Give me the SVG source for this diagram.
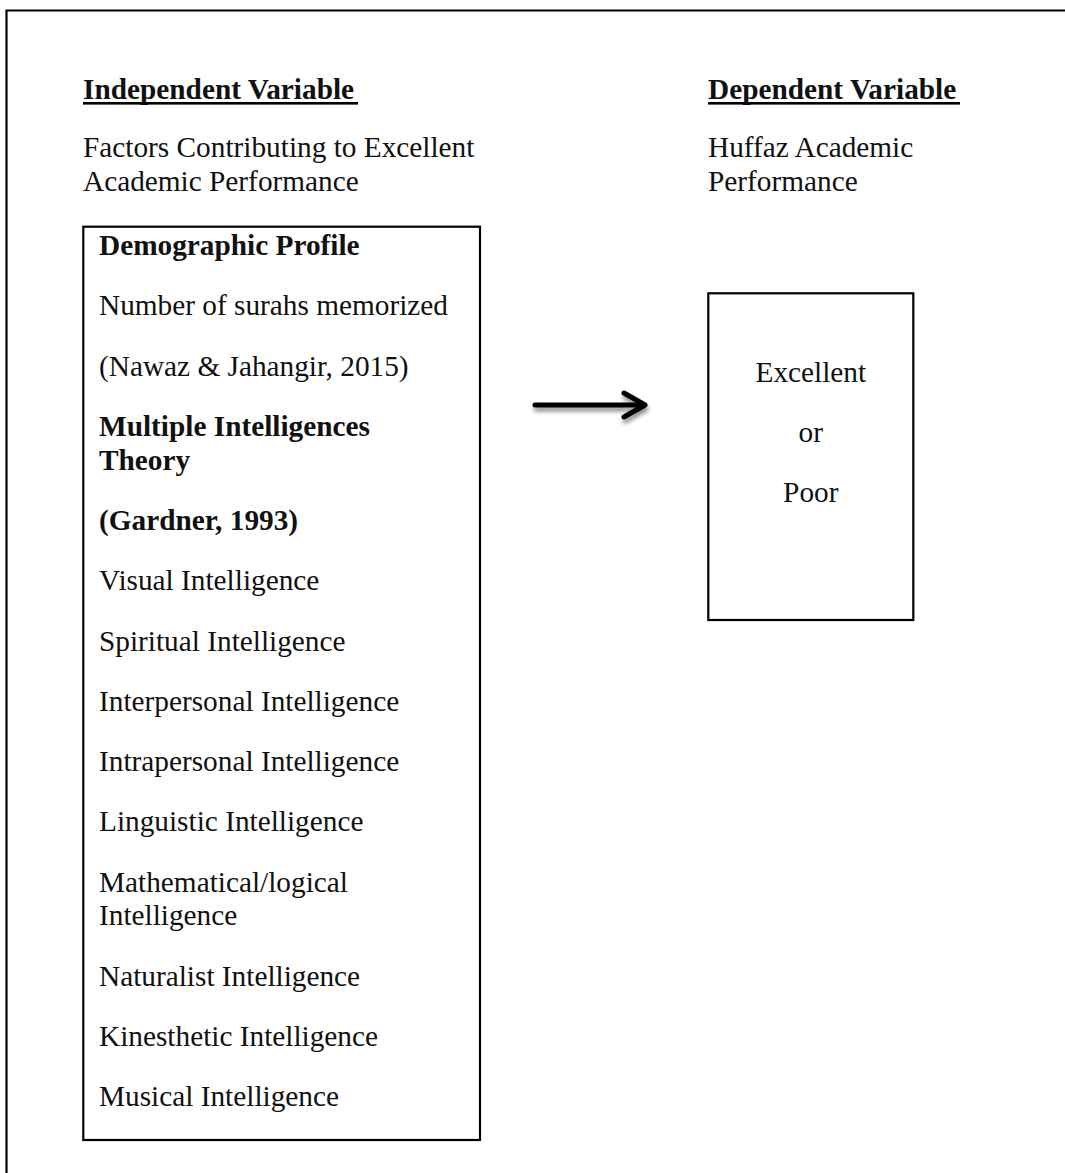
<svg xmlns="http://www.w3.org/2000/svg" width="1065" height="1173" viewBox="0 0 1065 1173">
<defs>
<style>
.t{font-family:"Liberation Serif","Times New Roman",serif;font-size:29.3px;fill:#111}
.b{font-weight:bold}
.box{fill:#fff;stroke:#000;stroke-width:2.2}
.ul{fill:#000}
</style>
<filter id="sh" x="-20%" y="-50%" width="140%" height="250%">
<feGaussianBlur in="SourceAlpha" stdDeviation="2"/>
<feOffset dx="1" dy="4" result="o"/>
<feComponentTransfer><feFuncA type="linear" slope="0.45"/></feComponentTransfer>
<feMerge><feMergeNode/><feMergeNode in="SourceGraphic"/></feMerge>
</filter>
</defs>
<rect width="1065" height="1173" fill="#fff"/>
<path d="M6.5,1173 V10.5 H1065" fill="none" stroke="#000" stroke-width="2.2"/>

<g id="independent-header">
<text class="t b" x="83" y="99">Independent Variable</text>
<rect class="ul" x="83" y="102" width="275" height="2.6"/>
<text class="t" x="83" y="157">Factors Contributing to Excellent</text>
<text class="t" x="83" y="191">Academic Performance</text>
</g>

<g id="dependent-header">
<text class="t b" x="708" y="99">Dependent Variable</text>
<rect class="ul" x="708" y="102" width="252" height="2.6"/>
<text class="t" x="708" y="157">Huffaz Academic</text>
<text class="t" x="708" y="191">Performance</text>
</g>

<g id="factors-box">
<rect class="box" x="83.3" y="226.7" width="396.7" height="913.3"/>
<text class="t b" x="99" y="255">Demographic Profile</text>
<text class="t" x="99" y="315.3">Number of surahs memorized</text>
<text class="t" x="99" y="375.6">(Nawaz &amp; Jahangir, 2015)</text>
<text class="t b" x="99" y="435.9">Multiple Intelligences</text>
<text class="t b" x="99" y="469.6">Theory</text>
<text class="t b" x="99" y="529.9">(Gardner, 1993)</text>
<text class="t" x="99" y="590.2">Visual Intelligence</text>
<text class="t" x="99" y="650.5">Spiritual Intelligence</text>
<text class="t" x="99" y="710.8">Interpersonal Intelligence</text>
<text class="t" x="99" y="771.1">Intrapersonal Intelligence</text>
<text class="t" x="99" y="831.4">Linguistic Intelligence</text>
<text class="t" x="99" y="891.7">Mathematical/logical</text>
<text class="t" x="99" y="925.4">Intelligence</text>
<text class="t" x="99" y="985.7">Naturalist Intelligence</text>
<text class="t" x="99" y="1046">Kinesthetic Intelligence</text>
<text class="t" x="99" y="1106.3">Musical Intelligence</text>
</g>

<g id="performance-box">
<rect class="box" x="708.3" y="293.3" width="205" height="326.7"/>
<text class="t" x="810.8" y="382" text-anchor="middle">Excellent</text>
<text class="t" x="810.8" y="442" text-anchor="middle">or</text>
<text class="t" x="810.8" y="502" text-anchor="middle">Poor</text>
</g>

<g id="connectors">
<g filter="url(#sh)" fill="none" stroke="#000" stroke-width="5" stroke-linecap="round" stroke-linejoin="round">
<path d="M535,405 H644"/>
<path d="M624,393 L645,405 L624,417"/>
</g>
</g>
</svg>
